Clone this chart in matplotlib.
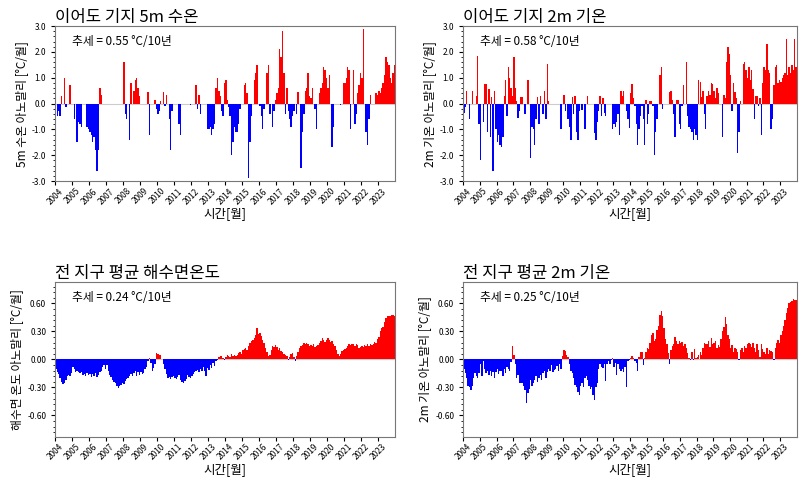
import matplotlib
matplotlib.use("Agg")
import matplotlib.pyplot as plt
import numpy as np
from matplotlib.ticker import MultipleLocator, FormatStrFormatter

plt.rcParams["font.family"] = ["Noto Sans CJK KR", "DejaVu Sans"]

YEARS = list(range(2004, 2024))

# Ieodo station 5 m water temperature anomaly, monthly 2004-2023
ieodo_sst = [
    0, -0.5, -0.3, -0.5, 0.3, 0, 1.0, -0.15, 0, 0, 0.7, 0,
    0, -0.6, 0, -1.5, -0.7, -0.8, -0.9, 0, 0, 0, -0.9, -1.0,
    -1.1, -1.2, -1.5, -1.3, -1.8, -2.6, -1.8, 0.6, 0.35, 0, 0, 0,
    0, 0, 0, 0, 0, 0, 0, 0, 0, 0, 0, 0,
    1.6, -0.4, -0.6, 0, -1.4, 0.8, 0, 0.5, 0.9, 1.0, 0.6, 0.3,
    0, 0, 0, 0, 0, 0.45, -1.2, 0, 0, 0, 0.15, -0.2,
    -0.4, -0.3, 0.1, 0, 0.45, -0.1, 0.35, 0, -0.6, -1.8, -0.3, 0,
    0, 0, 0, -0.8, -1.2, 0, 0, 0, 0, 0, 0, -0.05,
    0, 0, 0, 0.7, -0.2, 0.35, -0.4, 0, 0, 0, 0, -1.0,
    -1.0, -0.9, -1.2, -1.0, -0.8, 0.6, 1.0, 0.5, 0.3, -0.3, -0.5, 0.8,
    0.9, 0.15, -0.15, -0.5, -2.0, -1.5, -0.9, -1.1, -1.1, -0.8, -0.2, 0,
    0, 0.7, 0.8, 0.4, -2.9, -1.5, -0.5, 0, 0.9, 1.2, 1.5, 0,
    -0.1, -0.5, -1.0, -0.2, 0, 1.2, 1.5, -0.4, 0, -0.9, -0.3, 0.15,
    0.4, 0.6, 2.1, 1.8, 2.8, 1.2, -0.4, 0.6, -0.3, -0.6, -0.9, -0.5,
    -0.3, 0, -0.4, 0.45, 0, -2.5, -1.1, -0.4, 0.5, 0.6, 1.2, 0.3,
    0.2, 0.6, 0, -0.2, -1.0, 0, 0.4, 0.6, 0.8, 1.4, 1.3, 1.0,
    0.6, 1.1, 0, -1.7, -0.9, 0, 0, 0, 0, -0.05, 0, 0.8,
    0.8, 1.0, 1.4, 1.3, -1.0, 0, 1.3, -0.8, -0.4, 0.4, 0.7, 1.2,
    1.0, 2.9, 0, -1.1, -1.6, -0.6, 0.35, 0, 0, 0, 0.4, 0.35,
    0.5, 0.4, 0.6, 0.8, 1.1, 1.8, 1.6, 1.5, 1.0, 0.8, 1.2, 1.5,
]

# Ieodo station 2 m air temperature anomaly
ieodo_t2m = [
    -0.35, -0.15, 0.5, 0, -0.6, 0,
    0.5, 0, 0, 0.3, 1.85, -0.8, -2.2, 0, -0.7, 0.75, 0.75, -1.1,
    0.55, -1.3, 0.25, -2.6, 0.5, -1.0, -1.5, -1.2, -1.6, -1.7, -1.3, 0.3,
    0.9, -0.5, 1.4, 1.0, 0.6, 0.3, 1.8, 0.6, 0.1, -0.55, -0.3, 0.25,
    0.25, 0, -0.4, 0, 0.9, 0, -2.1, -0.9, -1.0, -1.6, -0.6, 0.25,
    -0.8, 0.3, 0, -0.4, 0.5, -0.6, 1.55, 0.1, 0, 0, 0, 0,
    0, 0, 0, 0, -1.0, 0, 0.35, -0.3, 0, -0.6, -0.9, -1.4,
    0.25, -0.4, 0.3, -1.1, -1.4, -0.3, 0, -0.25, 0, -1.0, 0, 0.3,
    0, 0, 0, 0, -1.15, -1.4, -0.7, -0.3, 0.3, -0.5, 0.2, -0.35,
    -0.5, 0, 0, 0, 0, -1.0, -0.8, -0.9, -0.7, -0.4, -1.2, 0.5,
    0.3,
    0.5, 0, -0.3, -0.6, -0.95, 0.4, 0.75, 0.2, -0.1, -0.8, -1.6, -1.0,
    -0.5, -0.1, -0.6, -1.6, 0.15, -0.8, -0.4, 0.1, 0.1, -0.1, -2.0, -1.1,
    -0.6, 0, 1.1, 1.4, -0.2, 0, 0, 0, 0, 0.45, 0.5, 0.15,
    -0.4, -1.3, 0.15, 0.15, -0.8, -1.0, -0.1, 0.7, 0, 1.6, -0.5, -0.9,
    -1.0, -1.1, -1.4, -1.0, -1.2, -1.4, 0.9, 0.85, 0.25, 0.5, -0.4, -1.0,
    0.3, 0.5, 0.35, 0.8, 0.75, 0.5, 0.2, 0.6, 0.4, 0, 0, -1.3,
    0.35, 0.2, 1.6, 2.2, 1.9, 1.1, -0.3, 0.8, 0.45, 0.2, -1.9, -1.1,
    0.1, 0, 1.55, 1.6, 1.3, 1.0, 1.4, 0.9, 1.3, 0.55, -0.6, 0.3,
    0.3, -0.1, 0.2, -1.2, 0.8, 1.4, 1.3, 2.3, 1.3, 1.2, -1.0, -0.6,
    0.7, 1.4, 1.5, 0.8, 0.9, 0.85, 1.0, 1.1, 1.2, 2.5, 1.1, 1.4,
    1.2, 1.5, 1.3, 2.5, 1.4,
]

# global mean sea surface temperature anomaly
global_sst = [
    -0.10, -0.13, -0.16, -0.20, -0.24, -0.26, -0.25, -0.22, -0.18, -0.17, -0.18, -0.15,
    -0.08, -0.10, -0.13, -0.12, -0.14, -0.15, -0.14, -0.17, -0.16, -0.18, -0.15, -0.17,
    -0.16, -0.19, -0.16, -0.18, -0.15, -0.19, -0.17, -0.14, -0.12, -0.08, -0.06, -0.10,
    -0.06, -0.12, -0.17, -0.19, -0.22, -0.24, -0.25, -0.28, -0.31, -0.29, -0.27, -0.25,
    -0.26, -0.23, -0.21, -0.20, -0.18, -0.16, -0.18, -0.15, -0.12, -0.18, -0.14, -0.17,
    -0.14, -0.16, -0.15, -0.10, -0.08, -0.02, 0.02, -0.04, -0.12, -0.09, -0.05, 0.07,
    0.06, 0.05, 0.05, 0.00, -0.05, -0.10, -0.16, -0.20, -0.19, -0.21, -0.19, -0.18,
    -0.20, -0.21, -0.19, -0.17, -0.22, -0.24, -0.25, -0.23, -0.21, -0.17, -0.19, -0.20,
    -0.18, -0.16, -0.14, -0.12, -0.11, -0.14, -0.10, -0.12, -0.08, -0.12, -0.18, -0.09,
    -0.11, -0.06, -0.09, -0.04, -0.07, -0.02, -0.01, 0.03, 0.04, 0.04, 0.02, -0.01,
    0.03, 0.05, 0.04, 0.03, 0.06, 0.04, 0.05, 0.04, 0.05, 0.07, 0.08, 0.06,
    0.10, 0.11, 0.12, 0.10, 0.14, 0.18, 0.20, 0.21, 0.23, 0.26, 0.34, 0.27,
    0.28, 0.25, 0.21, 0.18, 0.12, 0.08, 0.04, 0.05, 0.10, 0.14, 0.13, 0.15,
    0.13, 0.10, 0.12, 0.09, 0.08, 0.06, 0.05, 0.04, -0.01, 0.03, 0.06, 0.07,
    0.03, -0.02, 0.04, 0.08, 0.12, 0.14, 0.15, 0.18, 0.17, 0.18, 0.16, 0.14,
    0.15, 0.14, 0.16, 0.13, 0.14, 0.15, 0.18, 0.20, 0.23, 0.21, 0.19, 0.21,
    0.23, 0.21, 0.19, 0.20, 0.17, 0.14, 0.10, 0.06, 0.04, 0.06, 0.09, 0.10,
    0.11, 0.12, 0.14, 0.16, 0.15, 0.17, 0.16, 0.14, 0.17, 0.15, 0.12, 0.13,
    0.14, 0.13, 0.15, 0.14, 0.16, 0.14, 0.16, 0.15, 0.17, 0.19, 0.18, 0.22,
    0.24, 0.30, 0.34, 0.35, 0.40, 0.44, 0.46, 0.47, 0.46, 0.48, 0.48, 0.47,
]

# global mean 2 m air temperature anomaly
global_t2m = [
    -0.10, -0.15, -0.20, -0.28, -0.30, -0.33, -0.28, -0.20, -0.15, -0.18, -0.20, -0.15,
    -0.05, -0.18, -0.02, -0.10, -0.15, -0.12, -0.17, -0.12, -0.18, -0.13, -0.20, -0.14,
    -0.10, -0.16, -0.12, -0.12, -0.18, -0.10, -0.15, -0.08, -0.10, -0.12, -0.03, 0.14,
    0.05, -0.05, -0.20, -0.17, -0.25, -0.25, -0.25, -0.28, -0.33, -0.47, -0.36, -0.32,
    -0.22, -0.28, -0.25, -0.22, -0.18, -0.24, -0.20, -0.17, -0.22, -0.15, -0.12, -0.20,
    -0.13, -0.10, -0.12, -0.06, -0.13, -0.11, -0.10, -0.07, -0.12, -0.05, -0.10, 0.04,
    0.10, 0.09, 0.05, 0.03, -0.05, -0.12, -0.15, -0.20, -0.27, -0.30, -0.35, -0.38,
    -0.28, -0.25, -0.30, -0.20, -0.18, -0.22, -0.28, -0.32, -0.30, -0.38, -0.44, -0.30,
    -0.25, -0.10, -0.05, -0.08, -0.09, -0.05, -0.23, -0.05, -0.02, -0.05, -0.01, 0.01,
    -0.08, -0.04, -0.17, -0.05, -0.10, -0.12, -0.10, -0.13, -0.08, -0.30, -0.02, -0.01,
    0.02, 0.04, 0.01, -0.02, -0.04, -0.12, 0.03, 0.08, 0.08, -0.06, 0.02, 0.08,
    0.12, 0.11, 0.18, 0.26, 0.28, 0.20, 0.22, 0.31, 0.36, 0.48, 0.52, 0.46,
    0.34, 0.22, 0.16, 0.07, -0.05, 0.10, 0.14, 0.17, 0.24, 0.20, 0.16, 0.20,
    0.18, 0.19, 0.14, 0.17, 0.12, 0.07, 0.02, -0.01, 0.08, -0.01, 0.11, 0.02,
    0.03, 0.05, 0.08, 0.05, 0.12, 0.18, 0.16, 0.17, 0.20, 0.13, 0.23, 0.16,
    0.18, 0.20, 0.12, 0.15, 0.13, 0.22, 0.30, 0.35, 0.45, 0.38, 0.26, 0.22,
    0.12, 0.15, 0.08, 0.12, 0.11, 0.08, -0.01, 0.10, 0.12, 0.08, 0.14, 0.12,
    0.16, 0.18, 0.17, 0.13, 0.18, 0.12, 0.08, 0.16, 0.10, 0.03, 0.16, 0.11,
    0.08, 0.06, 0.12, 0.06, 0.10, 0.09, 0.08, -0.01, 0.12, 0.18, 0.21, 0.18,
    0.26, 0.30, 0.36, 0.42, 0.50, 0.55, 0.60, 0.62, 0.63, 0.65, 0.64, 0.64,
]

PANELS = [
    (ieodo_sst, "이어도 기지 5m 수온", "5m 수온 아노말리 [°C/월]", "추세 = 0.55 °C/10년", 3.0, 1.0, "%.1f"),
    (ieodo_t2m, "이어도 기지 2m 기온", "2m 기온 아노말리 [°C/월]", "추세 = 0.58 °C/10년", 3.0, 1.0, "%.1f"),
    (global_sst, "전 지구 평균 해수면온도", "해수면 온도 아노말리 [°C/월]", "추세 = 0.24 °C/10년", 0.83, 0.3, "%.2f"),
    (global_t2m, "전 지구 평균 2m 기온", "2m 기온 아노말리 [°C/월]", "추세 = 0.25 °C/10년", 0.83, 0.3, "%.2f"),
]
RECTS = [
    (0.069, 0.632, 0.425, 0.315),
    (0.579, 0.632, 0.417, 0.315),
    (0.069, 0.112, 0.425, 0.315),
    (0.579, 0.112, 0.417, 0.315),
]

fig = plt.figure(figsize=(8.0, 4.92), dpi=100)
for (vals, title, ylabel, trend, ymax, major, fmt), rect in zip(PANELS, RECTS):
    ax = fig.add_axes(rect)
    v = np.asarray(vals, float)
    x = 2004 + np.arange(len(v)) / 12.0
    colors = np.where(v >= 0, "red", "blue")
    ax.bar(x, v, width=1 / 12.0, align="edge", color=colors, linewidth=0)
    ax.axhline(0, color="#cccccc", lw=0.8, zorder=0)
    ax.set_xlim(2004, 2024)
    ax.set_ylim(-ymax, ymax)
    ax.set_xticks(YEARS)
    ax.set_xticklabels([str(y) for y in YEARS], rotation=45, fontsize=6)
    ax.yaxis.set_major_locator(MultipleLocator(major))
    ax.yaxis.set_minor_locator(MultipleLocator(major / 5))
    ax.yaxis.set_major_formatter(FormatStrFormatter(fmt))
    ax.tick_params(axis="y", labelsize=6, length=3)
    ax.tick_params(axis="y", which="minor", length=1.5)
    ax.tick_params(axis="x", length=3, pad=1)
    for s in ax.spines.values():
        s.set_color("#777777")
    ax.set_title(title, loc="left", fontsize=12, pad=3)
    ax.set_ylabel(ylabel, fontsize=8.5, labelpad=3)
    ax.set_xlabel("시간[월]", fontsize=9, labelpad=1)
    ax.text(0.05, 0.9, trend, transform=ax.transAxes, fontsize=8.5, va="center")

fig.savefig("out.png", dpi=100, facecolor="white")
